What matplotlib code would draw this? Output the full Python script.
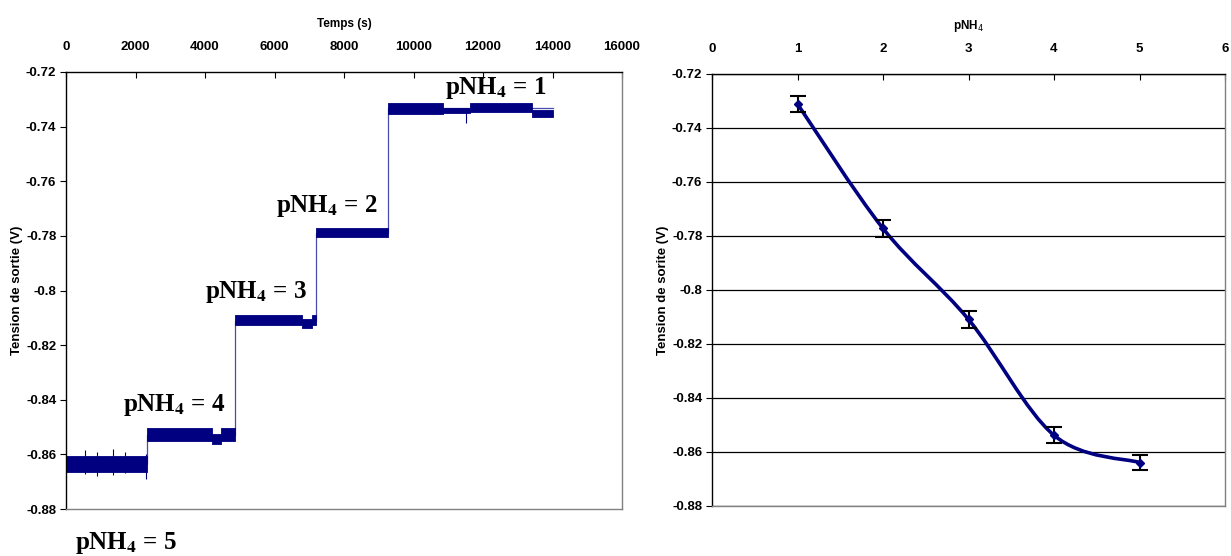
import numpy as np
import matplotlib
matplotlib.use('Agg')
import matplotlib.pyplot as plt
from matplotlib.path import Path
from matplotlib.patches import PathPatch

plt.rcParams['font.family'] = ['Liberation Sans Narrow', 'Liberation Sans', 'DejaVu Sans']

# --- left chart: plateaus of the recorded signal (start, end, low, high) ---
seg_start = [0, 2330, 4200, 4450, 4860, 6790, 7080, 7190, 9270, 10850, 11630, 13410]
seg_end = [2330, 4200, 4450, 4860, 6790, 7080, 7190, 9270, 10850, 11630, 13410, 14010]
seg_low = [-0.8665, -0.8552, -0.8562, -0.8552, -0.8128, -0.8137, -0.8128, -0.7803,
           -0.7355, -0.7350, -0.7345, -0.7365]
seg_high = [-0.8605, -0.8505, -0.8525, -0.8505, -0.8088, -0.8105, -0.8088, -0.7772,
            -0.7312, -0.7332, -0.7312, -0.7340]

# isolated spikes
spike_t = [550, 900, 1350, 1700, 2300, 11500]
spike_lo = [-0.8672, -0.8680, -0.8675, -0.8668, -0.8690, -0.7387]
spike_hi = [-0.8585, -0.8590, -0.8582, -0.8590, -0.8600, -0.7330]

# step transitions
step_t = [0, 2330, 4860, 7190, 9270, 14010]
step_v = [-0.8635, -0.8530, -0.8110, -0.7788, -0.7333, -0.7333]

# --- right chart: mean output voltage per pNH4 ---
pnh4 = [1, 2, 3, 4, 5]
tension = [-0.7311, -0.7772, -0.8109, -0.8538, -0.8639]
erreur = [0.0030, 0.0030, 0.0030, 0.0029, 0.0029]

labels_pnh = ['pNH$_{\\mathbf{4}}$ = 1', 'pNH$_{\\mathbf{4}}$ = 2', 'pNH$_{\\mathbf{4}}$ = 3',
              'pNH$_{\\mathbf{4}}$ = 4', 'pNH$_{\\mathbf{4}}$ = 5']
label_px = [(445, 88), (276, 206), (205, 292), (123, 405), (75, 543)]

navy = '#000080'
gray = '#808080'
W, H = 1231, 556

fig = plt.figure(figsize=(W / 100, H / 100), dpi=100)
ax1 = fig.add_axes([66 / W, 1 - 509 / H, 556 / W, 437 / H])
ax2 = fig.add_axes([712 / W, 1 - 506 / H, 513 / W, 432 / H])

# left panel
ax1.plot(step_t, step_v, drawstyle='steps-post', color='#4a4ab0', lw=0.9, zorder=1)
for t0, t1, lo, hi in zip(seg_start, seg_end, seg_low, seg_high):
    ax1.fill_between([t0, t1], [lo, lo], [hi, hi], color=navy, lw=0.6, zorder=2)
ax1.vlines(spike_t, spike_lo, spike_hi, color=navy, lw=0.8, zorder=2)

ax1.set_xlim(0, 16000)
ax1.set_ylim(-0.88, -0.72)
ax1.set_xticks(np.arange(0, 16001, 2000))
ax1.set_yticks(np.arange(-0.88, -0.7199, 0.02))
ax1.set_yticklabels(['-0.88', '-0.86', '-0.84', '-0.82', '-0.8', '-0.78', '-0.76', '-0.74', '-0.72'])
ax1.xaxis.tick_top()
ax1.xaxis.set_label_position('top')
ax1.set_xlabel('Temps (s)', fontsize=8.5, fontweight='bold', labelpad=10)
ax1.set_ylabel('Tension de sortie (V)', fontsize=9.5, fontweight='bold',
               family=['Liberation Sans', 'DejaVu Sans'], labelpad=2)

# right panel
ax2.errorbar(pnh4, tension, yerr=erreur, fmt='none', ecolor='black', elinewidth=1.5,
             capsize=6, capthick=1.5, zorder=4)
pts = np.column_stack([pnh4, tension])
ext = np.vstack([pts[0], pts, pts[-1]])
verts = [tuple(pts[0])]
codes = [Path.MOVETO]
for i in range(1, len(ext) - 2):
    p0, p1, p2, p3 = ext[i - 1], ext[i], ext[i + 1], ext[i + 2]
    verts += [tuple(p1 + (p2 - p0) / 6), tuple(p2 - (p3 - p1) / 6), tuple(p2)]
    codes += [Path.CURVE4] * 3
ax2.add_patch(PathPatch(Path(verts, codes), fill=False, edgecolor=navy, lw=2.6, zorder=3))
ax2.plot(pnh4, tension, 'D', color=navy, ms=4, zorder=5)

ax2.set_xlim(0, 6)
ax2.set_ylim(-0.88, -0.72)
ax2.set_xticks(range(0, 7))
ax2.set_yticks(np.arange(-0.88, -0.7199, 0.02))
ax2.set_yticklabels(['-0.88', '-0.86', '-0.84', '-0.82', '-0.8', '-0.78', '-0.76', '-0.74', '-0.72'])
ax2.xaxis.tick_top()
ax2.xaxis.set_label_position('top')
ax2.set_xlabel('pNH$_4$', fontsize=8.5, fontweight='bold', labelpad=10)
ax2.set_ylabel('Tension de sorite (V)', fontsize=9.5, fontweight='bold',
               family=['Liberation Sans', 'DejaVu Sans'], labelpad=2)
ax2.grid(axis='y', color='black', lw=0.9)
ax2.set_axisbelow(True)

for ax in (ax1, ax2):
    ax.spines['left'].set_color('black')
    ax.spines['top'].set_color('black')
    ax.spines['right'].set_color(gray)
    ax.spines['bottom'].set_color(gray)
    for s in ax.spines.values():
        s.set_linewidth(1.0)
    ax.tick_params(axis='x', direction='in', length=4, labelsize=9.5, pad=14)
    ax.tick_params(axis='y', direction='out', length=4, labelsize=9.5, pad=3)
    for lab in ax.get_xticklabels() + ax.get_yticklabels():
        lab.set_fontweight('bold')

for txt, (px, py) in zip(labels_pnh, label_px):
    fig.text(px / W, 1 - py / H, txt, fontsize=18, fontweight='bold',
             family=['Liberation Serif', 'DejaVu Serif'], math_fontfamily='stix',
             ha='left', va='center')

fig.savefig('out.png', dpi=100)
